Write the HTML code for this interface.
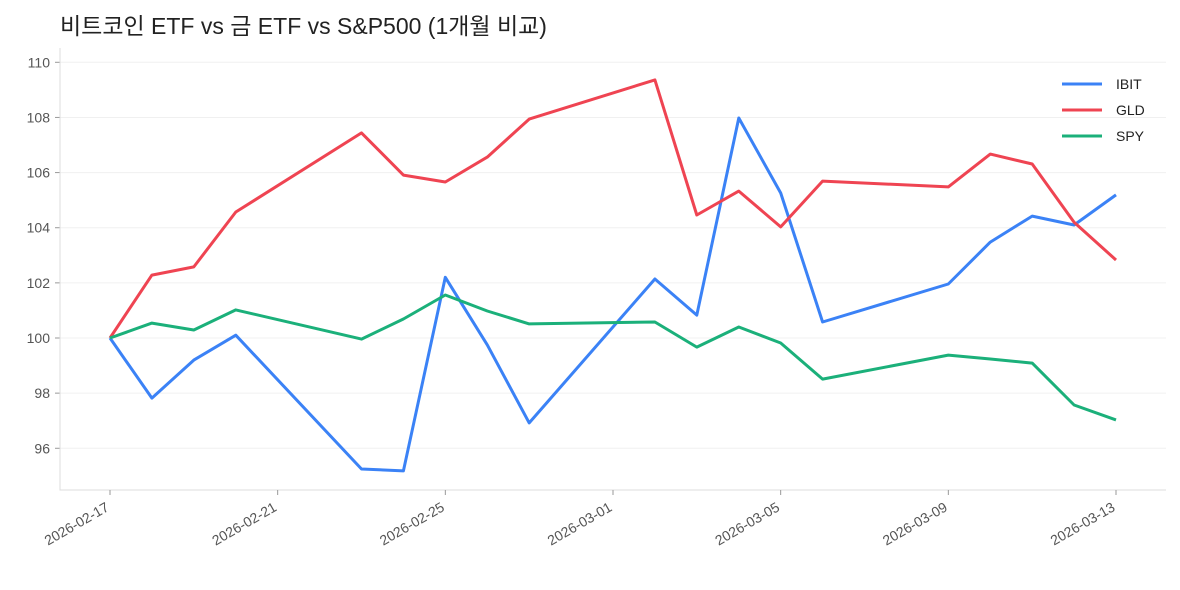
<!DOCTYPE html>
<html><head><meta charset="utf-8">
<style>
body{margin:0;background:#fff;font-family:"Liberation Sans","Noto Sans CJK KR",sans-serif;}
svg text{font-family:"Liberation Sans","Noto Sans CJK KR",sans-serif;}
</style></head>
<body>
<svg id="chart" width="1180" height="585" xmlns="http://www.w3.org/2000/svg">
<text x="60" y="34" font-size="23" fill="#222">비트코인 ETF vs 금 ETF vs S&amp;P500 (1개월 비교)</text>
<g id="grid"></g>
<g id="axes"></g>
<g id="series"></g>
<g id="legend"></g>
</svg>
<script>
const dates=["2026-02-17","2026-02-18","2026-02-19","2026-02-20","2026-02-23","2026-02-24","2026-02-25","2026-02-26","2026-02-27","2026-03-02","2026-03-03","2026-03-04","2026-03-05","2026-03-06","2026-03-09","2026-03-10","2026-03-11","2026-03-12","2026-03-13"];
const ibit=[100,97.82,99.2,100.1,95.25,95.18,102.2,99.75,96.92,102.14,100.83,107.98,105.26,100.58,101.96,103.48,104.42,104.1,105.19];
const gld=[100,102.28,102.58,104.57,107.44,105.91,105.66,106.56,107.94,109.36,104.46,105.33,104.03,105.69,105.48,106.67,106.31,104.2,102.83];
const spy=[100,100.54,100.29,101.02,99.96,100.69,101.56,100.98,100.51,100.58,99.67,100.4,99.82,98.51,99.38,99.24,99.09,97.57,97.03];
const yTicks=[96,98,100,102,104,106,108,110];
const xTicks=["2026-02-17","2026-02-21","2026-02-25","2026-03-01","2026-03-05","2026-03-09","2026-03-13"];
const seriesNames=["IBIT","GLD","SPY"];
const colors=["#3b82f6","#ef4452","#1bb07a"];

const NS="http://www.w3.org/2000/svg";
const L=60,R=1166,T=48,B=490;
const t0=Date.parse("2026-02-17"),t1=Date.parse("2026-03-13");
function xs(d){return 110+(Date.parse(d)-t0)/(t1-t0)*1006;}
function ys(v){return 338-(v-100)*27.57;}
function mk(tag,attrs,parent){const e=document.createElementNS(NS,tag);for(const k in attrs)e.setAttribute(k,attrs[k]);parent.appendChild(e);return e;}
const grid=document.getElementById('grid'),axes=document.getElementById('axes'),ser=document.getElementById('series'),leg=document.getElementById('legend');
yTicks.forEach(v=>{
  const y=ys(v);
  const g=mk('line',{x1:L,x2:R,y1:y,y2:y,stroke:'#f0f0f0','stroke-width':1},grid);
  
  
  mk('line',{x1:L-5,x2:L,y1:y,y2:y,stroke:'#999'},axes);
  const t=mk('text',{x:L-10,y:y+5,'text-anchor':'end','font-size':14,fill:'#555'},axes);
  t.textContent=v;
  
  
});
const sp=mk('path',{d:`M${L} ${T}V${B}H${R}`,fill:'none',stroke:'#ddd'},axes);


xTicks.forEach(d=>{
  const x=xs(d);
  mk('line',{x1:x,x2:x,y1:B,y2:B+5,stroke:'#999'},axes);
  const t=mk('text',{x:x,y:B+20,'text-anchor':'end','font-size':14,fill:'#555',transform:`rotate(-30 ${x} ${B+20})`},axes);
  t.textContent=d;
  
  
});
[ibit,gld,spy].forEach((s,i)=>{
  const d=s.map((v,j)=>(j?'L':'M')+xs(dates[j]).toFixed(1)+' '+ys(v).toFixed(1)).join('');
  const p=mk('path',{d:d,fill:'none',stroke:colors[i],'stroke-width':3,'stroke-linejoin':'round'},ser);
  
  
  const ly=84+i*26;
  const ll=mk('line',{x1:1062,x2:1102,y1:ly,y2:ly,stroke:colors[i],'stroke-width':3},leg);
  
  
  const lt=mk('text',{x:1116,y:ly+5,'font-size':14,fill:'#222'},leg);
  lt.textContent=seriesNames[i];
  
  
});
</script>
</body></html>
